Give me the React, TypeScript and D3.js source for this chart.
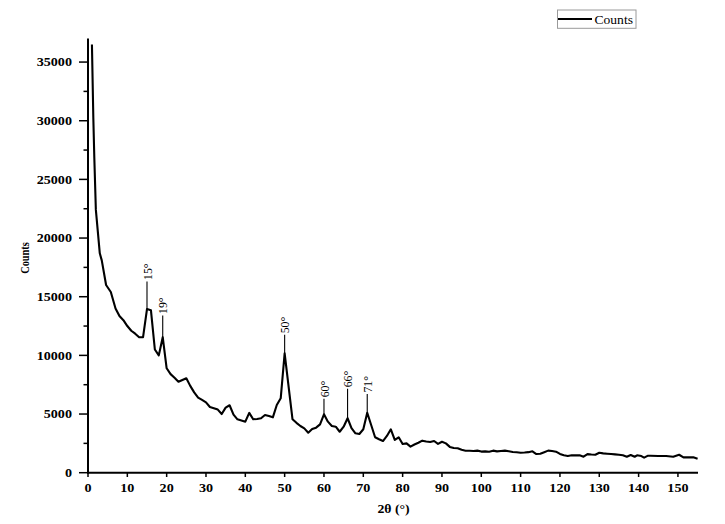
import React from "react";
import * as d3 from "d3";

const twoTheta = [
  1, 1.35, 1.6, 2, 3, 3.5, 4.6, 5.8, 7, 8, 9, 10, 11, 12, 13, 14, 15, 16, 17, 18, 19, 20,
  21, 22, 23, 24, 25, 26, 27, 28, 29, 30, 31, 32, 33, 34, 35, 36, 37, 38, 39, 40,
  41, 42, 43, 44, 45, 46, 47, 48, 49, 50, 52, 53, 54, 55, 56, 57, 58, 59, 60,
  61, 62, 63, 64, 65, 66, 67, 68, 69, 70, 71, 72, 73, 74, 75, 76, 77, 78, 79, 80,
  81, 82, 83, 84, 85, 86, 87, 88, 89, 90, 91, 92, 93, 94, 95, 96, 97, 98, 99, 100,
  101, 102, 103, 104, 105, 106, 107, 108, 109, 110, 111, 112, 113, 114, 115, 116, 117, 118, 119, 120,
  121, 122, 123, 124, 125, 126, 127, 128, 129, 130, 131, 132, 133, 134, 135, 136, 137, 138, 139, 139.6,
  140.7, 141.4, 142.4, 143, 145, 147, 148.8, 150.3, 151.4, 152.6, 153.9, 155,
];
const counts = [
  36500, 30300, 26900, 22400, 18700, 18100, 16000, 15400, 14000, 13350, 13000, 12500, 12100, 11850, 11550, 11550, 13950, 13850, 10500, 10000, 11550, 8900,
  8400, 8100, 7750, 7900, 8050, 7400, 6850, 6400, 6200, 6000, 5600, 5500, 5380, 5000, 5550, 5750, 4950, 4550, 4450, 4350,
  5100, 4550, 4580, 4640, 4920, 4830, 4720, 5770, 6340, 10180, 4550, 4250, 3980, 3780, 3410, 3720, 3840, 4120, 4980,
  4350, 3980, 3920, 3490, 3920, 4640, 3800, 3360, 3300, 3700, 5110, 4070, 3020, 2850, 2700, 3130, 3700, 2790, 3020, 2450,
  2500, 2220, 2400, 2550, 2730, 2660, 2620, 2700, 2450, 2640, 2500, 2200, 2100, 2080, 1950, 1870, 1870, 1850, 1880, 1800,
  1820, 1790, 1880, 1820, 1850, 1880, 1830, 1770, 1740, 1700, 1720, 1750, 1820, 1590, 1620, 1750, 1880, 1850, 1790, 1600,
  1480, 1420, 1480, 1480, 1480, 1360, 1580, 1550, 1530, 1700, 1650, 1620, 1590, 1560, 1530, 1480, 1360, 1510, 1360, 1480,
  1420, 1280, 1450, 1440, 1420, 1420, 1360, 1530, 1310, 1310, 1310, 1190,
];

const peakAngles = [15, 19, 50, 60, 66, 71];
const peakCounts = [13950, 11550, 10180, 4980, 4640, 5110];
const peakLabelCounts = [16300, 13400, 11750, 6300, 7150, 6700];
const peakLabels = ["15°", "19°", "50°", "60°", "66°", "71°"];

const xTicks = [0, 10, 20, 30, 40, 50, 60, 70, 80, 90, 100, 110, 120, 130, 140, 150];
const yTicks = [0, 5000, 10000, 15000, 20000, 25000, 30000, 35000];
const yMinorTicks = [2500, 7500, 12500, 17500, 22500, 27500, 32500];

const FONT = "'Liberation Serif', 'Times New Roman', serif";
const SX = 1.15;

export default function App() {
  const x = d3.scaleLinear().domain([0, 155]).range([88, 697.6]);
  const y = d3.scaleLinear().domain([0, 37000]).range([472.7, 38.6]);
  const line = d3
    .line<number>()
    .x((_, i) => x(twoTheta[i]))
    .y((d) => y(d));
  const path = line(counts) || "";

  return (
    <svg
      width={725}
      height={524}
      style={{ position: "absolute", left: 0, top: 0, background: "#fff" }}
      fontFamily={FONT}
    >
      <rect width={725} height={524} fill="#fff" />
      {/* data line */}
      <path d={path} fill="none" stroke="#000" strokeWidth={2.1} strokeLinejoin="round" />

      {/* peak annotations */}
      {peakAngles.map((a, i) => {
        const px = x(a);
        return (
          <g key={"pk" + i}>
            <line x1={px} x2={px} y1={y(peakCounts[i])} y2={y(peakLabelCounts[i])} stroke="#000" strokeWidth={1.1} />
            <text
              transform={`translate(${px},${y(peakLabelCounts[i]) - 1.5}) scale(1.1,1) rotate(-90)`}
              dy="0.35em"
              fontSize={11.8}
              textAnchor="start"
              fill="#000"
            >
              {peakLabels[i]}
            </text>
          </g>
        );
      })}

      {/* axes */}
      <line x1={88} x2={88} y1={38.6} y2={473.7} stroke="#000" strokeWidth={2} />
      <line x1={87} x2={698} y1={472.7} y2={472.7} stroke="#000" strokeWidth={2} />

      {yTicks.map((t) => (
        <g key={"yt" + t}>
          <line x1={79} x2={88} y1={y(t)} y2={y(t)} stroke="#000" strokeWidth={1.5} />
          <text
            transform={`translate(72,${y(t)}) scale(${SX},1)`}
            dy="0.35em"
            textAnchor="end"
            fontSize={12.3}
            fontWeight="bold"
          >
            {t}
          </text>
        </g>
      ))}
      {yMinorTicks.map((t) => (
        <line key={"ym" + t} x1={83.5} x2={88} y1={y(t)} y2={y(t)} stroke="#000" strokeWidth={1.5} />
      ))}

      {xTicks.map((t) => (
        <g key={"xt" + t}>
          <line x1={x(t)} x2={x(t)} y1={472.7} y2={477} stroke="#000" strokeWidth={1.5} />
          <text
            transform={`translate(${x(t)},488) scale(${SX},1)`}
            dy="0.35em"
            textAnchor="middle"
            fontSize={12.3}
            fontWeight="bold"
          >
            {t}
          </text>
        </g>
      ))}

      {/* axis titles */}
      <text
        transform={`translate(393.5,509) scale(${SX},1)`}
        dy="0.35em"
        textAnchor="middle"
        fontSize={12}
        fontWeight="bold"
      >
        2θ (°)
      </text>
      <text
        transform={`translate(25,258) scale(1.2,1) rotate(-90)`}
        dy="0.35em"
        textAnchor="middle"
        fontSize={10.4}
        fontWeight="bold"
      >
        Counts
      </text>

      {/* legend */}
      <rect x={557.5} y={10} width={78.5} height={18.3} fill="#fff" stroke="#9a9a9a" strokeWidth={1} />
      <line x1={558} x2={592} y1={19} y2={19} stroke="#000" strokeWidth={2} />
      <text
        transform={`translate(594.5,19.5) scale(${SX},1)`}
        dy="0.35em"
        textAnchor="start"
        fontSize={11.8}
      >
        Counts
      </text>
    </svg>
  );
}
